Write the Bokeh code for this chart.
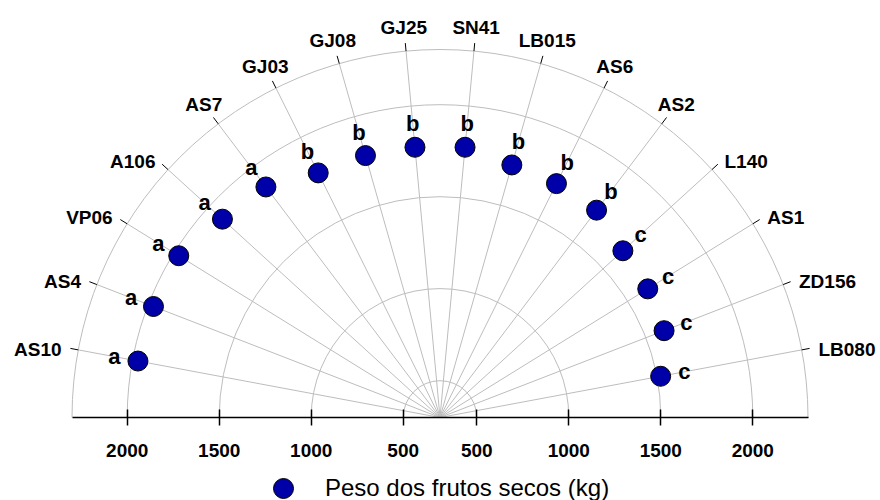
import numpy as np
from bokeh.plotting import figure
from bokeh.models import ColumnDataSource, Range1d, LinearAxis, FixedTicker, Legend, LegendItem
from bokeh.core.properties import value
from bokeh.embed import file_html
from bokeh.resources import INLINE

# ---------------- data ----------------
cultivars = ["AS10", "AS4", "VP06", "A106", "AS7", "GJ03", "GJ08", "GJ25",
             "SN41", "LB015", "AS6", "AS2", "L140", "AS1", "ZD156", "LB080"]
peso = [1970, 1970, 1970, 1900, 1870, 1785, 1780, 1775,
        1775, 1727, 1720, 1712, 1645, 1628, 1606, 1520]
grupos = ["a", "a", "a", "a", "a", "b", "b", "b",
          "b", "b", "b", "b", "c", "c", "c", "c"]
radial_ticks = [500, 1000, 1500, 2000]
r_min = 300
r_max = 2300
series_name = "Peso dos frutos secos (kg)"

# ---------------- geometry ----------------
PX = 92 / 500.0                 # pixels per data unit
n = len(cultivars)
theta = np.pi - (np.arange(n) + 1) * np.pi / (n + 1)
cos_t, sin_t = np.cos(theta), np.sin(theta)
R = r_max - r_min
rr = np.array(peso, dtype=float) - r_min

GRID = "#BDBDBD"
BLUE = "#0000A8"
FONT = "Liberation Sans"

p = figure(width=880, height=500, output_backend="svg", toolbar_location=None,
           x_axis_type=None, y_axis_type=None,
           x_range=Range1d(-439.5 / PX, 440.5 / PX),
           y_range=Range1d(-83 / PX, 417 / PX),
           min_border=0, min_border_left=0, min_border_right=0,
           min_border_top=0, min_border_bottom=0)
p.outline_line_color = None
p.background_fill_color = "white"
p.border_fill_color = "white"

# spokes
p.segment(x0=np.zeros(n), y0=np.zeros(n), x1=R * cos_t, y1=R * sin_t,
          line_color=GRID, line_width=1)
# concentric half circles
radii = [t - r_min for t in radial_ticks] + [R]
p.arc(x=[0] * len(radii), y=[0] * len(radii), radius=radii,
      start_angle=0, end_angle=np.pi, line_color=GRID, line_width=1)
# small outer ticks
p.segment(x0=R * cos_t, y0=R * sin_t, x1=(R + 8 / PX) * cos_t, y1=(R + 8 / PX) * sin_t,
          line_color="black", line_width=1)

# category labels
gap = np.where(np.abs(cos_t) > 0.7, 17.0, 24.0) / PX
align = ["right" if c < -0.7 else ("left" if c > 0.7 else "center") for c in cos_t]
ydrop = np.where(np.abs(cos_t) > 0.7, -3.0, 0.0) / PX
lab_src = ColumnDataSource(dict(x=(R + gap) * cos_t, y=(R + gap) * sin_t + ydrop,
                                t=cultivars, a=align))
p.text(x="x", y="y", text="t", text_align="a", text_baseline="middle",
       text_font=value(FONT), text_font_style="bold", text_font_size="19px",
       text_color="black", source=lab_src)

# data points
src = ColumnDataSource(dict(x=rr * cos_t, y=rr * sin_t, peso=peso, cv=cultivars))
pts = p.scatter(x="x", y="y", size=20, marker="circle", fill_color=BLUE,
                line_color="black", line_width=1, source=src)

# significance letters
lr = rr + 24 / PX
let_src = ColumnDataSource(dict(x=lr * cos_t, y=lr * sin_t, t=grupos))
p.text(x="x", y="y", text="t", text_align="center", text_baseline="middle",
       text_font=value(FONT), text_font_style="bold", text_font_size="22px",
       text_color="black", source=let_src)

# bottom radial axis (both sides)
tick_pos = [-(t - r_min) for t in radial_ticks] + [(t - r_min) for t in radial_ticks]
overrides = {}
for t in radial_ticks:
    overrides[-(t - r_min)] = str(t)
    overrides[(t - r_min)] = str(t)
ax = LinearAxis(ticker=FixedTicker(ticks=tick_pos), major_label_overrides=overrides,
                fixed_location=0, bounds=(-R, R))
ax.axis_line_color = "black"
ax.axis_line_width = 1.5
ax.major_tick_line_color = "black"
ax.major_tick_line_width = 1.5
ax.major_tick_in = 8
ax.major_tick_out = 8
ax.minor_tick_line_color = None
ax.major_label_standoff = 18
ax.major_label_text_font = FONT
ax.major_label_text_font_style = "bold"
ax.major_label_text_font_size = "19px"
ax.major_label_text_color = "black"
p.add_layout(ax, "below")

# legend
legend = Legend(items=[LegendItem(label=series_name, renderers=[pts])],
                location=(258, -13), orientation="horizontal",
                glyph_width=50, glyph_height=50, padding=0, margin=0,
                label_standoff=17, label_text_font=FONT, label_text_font_size="24px",
                label_text_color="black", border_line_color=None,
                background_fill_alpha=0)
p.add_layout(legend, "center")

open("out.html", "w").write(file_html(p, INLINE))
